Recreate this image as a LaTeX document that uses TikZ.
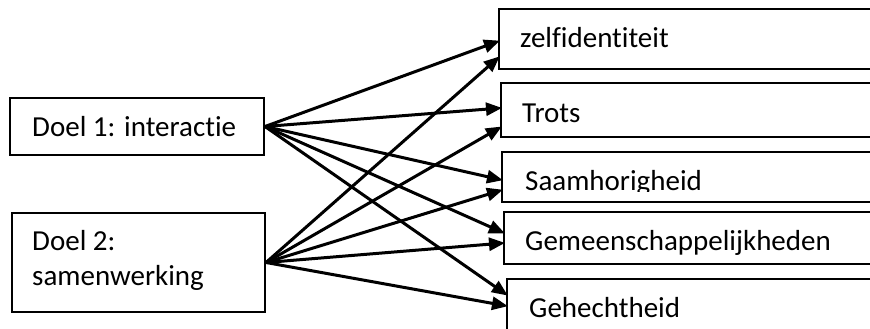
\documentclass[tikz,border=0pt]{standalone}
\usepackage{fontspec}
\setmainfont{Carlito}[Ligatures={NoCommon,NoRare}, Contextuals={NoAlternate}]
\usetikzlibrary{arrows.meta}
\tikzset{
  box/.style={draw, line width=2pt, rectangle, inner sep=0pt, anchor=north west},
  openbox/.style={inner sep=0pt, anchor=north west},
  edge/.style={line width=2pt},
  lbl/.style={inner sep=0pt, anchor=base west, font=\fontsize{29}{35}\selectfont},
  link/.style={line width=3pt, -{Triangle[length=16pt,width=13pt]}, shorten >=-1pt}
}
\begin{document}
\begin{tikzpicture}[x=1pt,y=-1pt]
\useasboundingbox (0,0) rectangle (870,329);
\clip (0,0) rectangle (870,329);
% source boxes
\node[box, minimum width=254pt, minimum height=57pt] (d1) at (9,97) {};
\node[box, minimum width=253pt, minimum height=99pt] (d2) at (11,212) {};
\node[lbl] (t1) at (32,136) {Doel 1: interactie};
\node[lbl] (t2a) at (32,250) {Doel 2:};
\node[lbl] (t2b) at (32,285) {samenwerking};
% target boxes, running past the right edge: only three sides are drawn
\node[openbox, minimum width=390pt, minimum height=60pt] (z) at (499,9) {};
\node[openbox, minimum width=390pt, minimum height=54pt] (tr) at (501,83) {};
\node[openbox, minimum width=390pt, minimum height=50pt] (sa) at (502,152) {};
\node[openbox, minimum width=390pt, minimum height=52pt] (ge) at (504,212) {};
\node[openbox, minimum width=390pt, minimum height=70pt] (gh) at (507,279) {};
\foreach \b in {z,tr,sa,ge,gh}
  \draw[edge] (\b.north east) -- (\b.north west) -- (\b.south west) -- (\b.south east);
\node[lbl] (tz) at (520,48) {zelfidentiteit};
\node[lbl] (ttr) at (522,122) {Trots};
\begin{scope}
  \clip (500,150) rectangle (870,191);
  \node[lbl] (tsa) at (525,190) {Saamhorigheid};
\end{scope}
\node[lbl] (tge) at (525,250) {Gemeenschappelijkheden};
\node[lbl] (tgh) at (529,317) {Gehechtheid};
% connectors from Doel 1
\draw[link] (d1.east) -- ([yshift=-32pt]z.north west);
\draw[link] (d1.east) -- ([yshift=-25pt]tr.north west);
\draw[link] (d1.east) -- ([yshift=-28pt]sa.north west);
\draw[link] (d1.east) -- ([yshift=-21pt]ge.north west);
\draw[link] (d1.east) -- ([yshift=-16pt]gh.north west);
% connectors from Doel 2
\draw[link] (d2.east) -- ([yshift=-48pt]z.north west);
\draw[link] (d2.east) -- ([yshift=-44pt]tr.north west);
\draw[link] (d2.east) -- ([yshift=-38pt]sa.north west);
\draw[link] (d2.east) -- ([yshift=-31pt]ge.north west);
\draw[link] (d2.east) -- ([yshift=-27pt]gh.north west);
\end{tikzpicture}
\end{document}
